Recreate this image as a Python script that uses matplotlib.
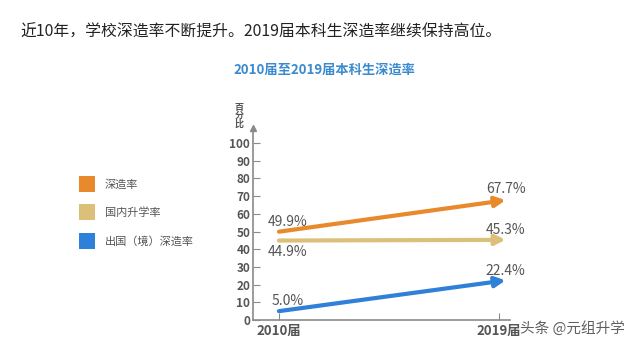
import matplotlib
matplotlib.use('Agg')
import matplotlib.pyplot as plt
from matplotlib.patches import Rectangle

plt.rcParams['font.family'] = ['Noto Sans CJK SC', 'DejaVu Sans']

# dados
anos = ['2010届', '2019届']
series_nomes = ['深造率', '国内升学率', '出国（境）深造率']
inicio = [49.9, 44.9, 5.0]
fim = [67.7, 45.3, 22.4]
cores = ['#e8892b', '#dcc07a', '#2f80d8']
yticks = list(range(0, 101, 10))

titulo = '近10年，学校深造率不断提升。2019届本科生深造率继续保持高位。'
subtitulo = '2010届至2019届本科生深造率'

fig = plt.figure(figsize=(6.4, 3.49), dpi=100)
fig.patch.set_facecolor('white')

fig.text(20 / 640, 1 - 32 / 349, titulo, fontsize=11.4, color='#222222', va='center', ha='left')
fig.text(324 / 640, 1 - 70 / 349, subtitulo, fontsize=9.5, color='#3a8ad0',
         fontweight='bold', va='center', ha='center')

ax = fig.add_axes([253 / 640, 29 / 349, 257 / 640, 192 / 349])
ax.set_xlim(-0.118, 1.05)
ax.set_ylim(0, 108.5)

for s in ['top', 'right']:
    ax.spines[s].set_visible(False)
for s in ['left', 'bottom']:
    ax.spines[s].set_color('#8a8a8a')
    ax.spines[s].set_linewidth(1.2)

ax.set_yticks(yticks)
ax.set_yticklabels([str(v) for v in yticks], fontsize=8.5, color='#555555', fontweight='bold')
ax.tick_params(axis='y', direction='in', length=5, color='#8a8a8a', pad=2)
ax.set_xticks([0, 1])
ax.set_xticklabels(anos, fontsize=9.5, color='#555555', fontweight='bold')
ax.tick_params(axis='x', direction='in', length=5, color='#8a8a8a', pad=3)

# seta do eixo y
ax.plot(0, 1, marker='^', markersize=4, color='#8a8a8a', transform=ax.transAxes, clip_on=False)
fig.text(239 / 640, 1 - 116 / 349, '百\n分\n比', fontsize=6.5, color='#555555',
         ha='center', va='center', linespacing=0.95, fontweight='bold')

for v0, v1, c in zip(inicio, fim, cores):
    ax.annotate('', xy=(1.03, v1), xytext=(0, v0),
                arrowprops=dict(arrowstyle='-|>,head_length=0.6,head_width=0.3',
                                lw=3, color=c, shrinkA=0, shrinkB=0))

# rotulos
off_ini = [5.5, -6.5, 5.5]
off_fim = [6.5, 5.5, 5.5]
for v0, v1, o0, o1 in zip(inicio, fim, off_ini, off_fim):
    ax.text(0.04, v0 + o0, f'{v0:.1f}%', fontsize=10, color='#555555', ha='center', va='center')
    ax.text(1.03, v1 + o1, f'{v1:.1f}%', fontsize=10, color='#555555', ha='center', va='center',
            clip_on=False)

# legenda
for i, (nome, c) in enumerate(zip(series_nomes, cores)):
    y = 184 + i * 28.5
    fig.patches.append(Rectangle((79 / 640, 1 - (y + 8) / 349), 16 / 640, 16 / 349,
                                 transform=fig.transFigure, facecolor=c, edgecolor='none'))
    fig.text(105 / 640, 1 - y / 349, nome, fontsize=8, color='#555555', ha='left', va='center')

# marca d'agua
fig.text(520 / 640, 1 - 328 / 349, '头条 @元组升学', fontsize=10.5, color='#444444',
         ha='left', va='center', alpha=0.85)

fig.savefig('out.png', dpi=100, facecolor='white')
